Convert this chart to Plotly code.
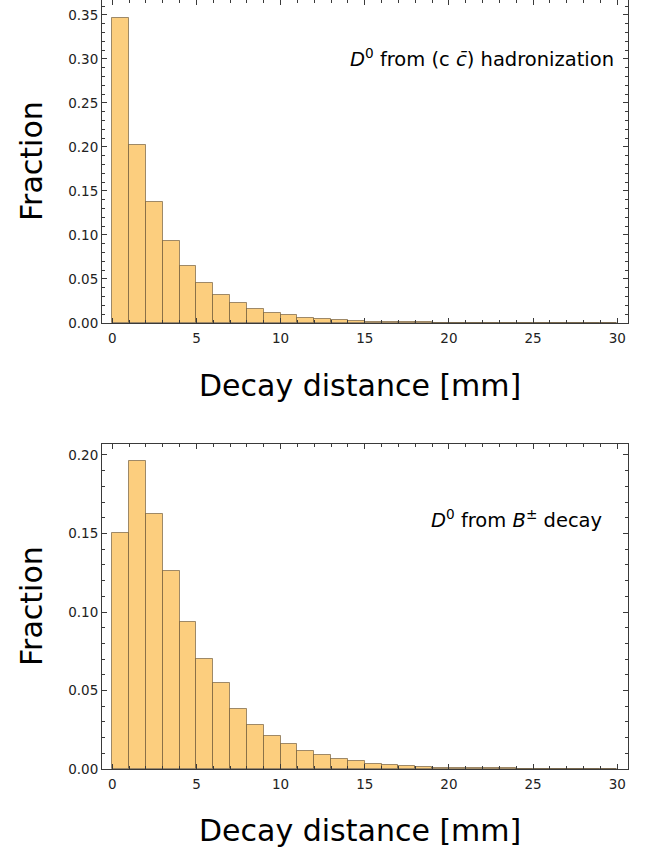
import plotly.graph_objects as go

# Bin left edges (mm), width 1 mm
bin_left = list(range(30))

# D0 from (c cbar) hadronization
frac_cc = [0.346, 0.202, 0.137, 0.0935, 0.0647, 0.045, 0.0322, 0.0227, 0.0159, 0.0114,
           0.0087, 0.006, 0.0045, 0.0034, 0.0023, 0.0017, 0.0013, 0.0010, 0.0008, 0.0005,
           0.0004, 0.0003, 0.0002, 0.00015, 0.0001, 0.0001, 0.00005, 0.00005, 0.00003, 0.00002]

# D0 from B+- decay
frac_b = [0.150, 0.196, 0.1626, 0.1259, 0.0934, 0.0701, 0.0546, 0.038, 0.0278, 0.021,
          0.0157, 0.0113, 0.0087, 0.0066, 0.0049, 0.0035, 0.0027, 0.0018, 0.0014, 0.0009,
          0.0008, 0.0006, 0.0005, 0.0004, 0.0003, 0.0002, 0.0002, 0.0001, 0.0001, 0.0001]

x_ticks = [0, 5, 10, 15, 20, 25, 30]
labels = ["<i>D</i><sup>0</sup> from (c <i>c\u0304</i>) hadronization",
          "<i>D</i><sup>0</sup> from <i>B</i><sup>\u00b1</sup> decay"]

FILL = "rgb(252,206,126)"
EDGE = "rgba(95,75,45,0.6)"
FRAME = "#3a3a3a"
FONT = "DejaVu Sans, Liberation Sans, sans-serif"

W, H = 655, 856
ML, MR, MT, MB = 102, 27, 0, 87
PH = H - MT - MB  # 769
top_dom = [(PH - 323) / PH, 1.0]
bot_dom = [0.0, (PH - 444) / PH]

fig = go.Figure()
for i, vals in enumerate([frac_cc, frac_b]):
    xa = "x" if i == 0 else "x2"
    ya = "y" if i == 0 else "y2"
    fig.add_trace(go.Bar(x=bin_left, y=vals, width=1, offset=0,
                         marker=dict(color=FILL, line=dict(color=EDGE, width=1)),
                         xaxis=xa, yaxis=ya, showlegend=False))

axis_common = dict(showline=True, linecolor=FRAME, linewidth=1, mirror="allticks",
                   ticks="inside", ticklen=5, tickwidth=1, tickcolor=FRAME,
                   showgrid=False, zeroline=False,
                   tickfont=dict(family=FONT, size=13.5, color="#222"))

fig.update_layout(
    width=W, height=H, plot_bgcolor="white", paper_bgcolor="white",
    margin=dict(l=ML, r=MR, t=MT, b=MB), bargap=0,
    xaxis=dict(domain=[0, 1], anchor="y", range=[-0.61, 30.64], tickvals=x_ticks,
               minor=dict(ticks="inside", dtick=1, tick0=0, ticklen=3, tickcolor=FRAME),
               ticklabelstandoff=3, **axis_common),
    yaxis=dict(domain=top_dom, anchor="x", range=[0, 0.367], dtick=0.05, tickformat=".2f",
               minor=dict(ticks="inside", dtick=0.01, ticklen=3, tickcolor=FRAME),
               **axis_common),
    xaxis2=dict(domain=[0, 1], anchor="y2", range=[-0.61, 30.64], tickvals=x_ticks,
                minor=dict(ticks="inside", dtick=1, tick0=0, ticklen=3, tickcolor=FRAME),
                ticklabelstandoff=3, **axis_common),
    yaxis2=dict(domain=bot_dom, anchor="x2", range=[0, 0.207], dtick=0.05, tickformat=".2f",
                minor=dict(ticks="inside", dtick=0.01, ticklen=3, tickcolor=FRAME),
                **axis_common),
)

def py(pix):
    return (PH - pix) / PH

def px(pix):
    return (pix - ML) / (W - ML - MR)

ann = []
for yc in (385, 830):
    ann.append(dict(text="Decay distance [mm]", x=px(360), y=py(yc), xref="paper", yref="paper",
                    showarrow=False, xanchor="center", yanchor="middle",
                    font=dict(family=FONT, size=30, color="black")))
for yc in (161, 606):
    ann.append(dict(text="Fraction", x=px(31), y=py(yc), xref="paper", yref="paper",
                    showarrow=False, xanchor="center", yanchor="middle", textangle=-90,
                    font=dict(family=FONT, size=30, color="black")))
ann.append(dict(text=labels[0], x=px(616), y=py(58), xref="paper", yref="paper",
                showarrow=False, xanchor="right", yanchor="middle",
                font=dict(family=FONT, size=19.5, color="black")))
ann.append(dict(text=labels[1], x=px(604), y=py(519), xref="paper", yref="paper",
                showarrow=False, xanchor="right", yanchor="middle",
                font=dict(family=FONT, size=19.5, color="black")))
fig.update_layout(annotations=ann)

fig.write_html("out.html", config={"displayModeBar": False},
               post_script="document.body.style.margin='0';")
